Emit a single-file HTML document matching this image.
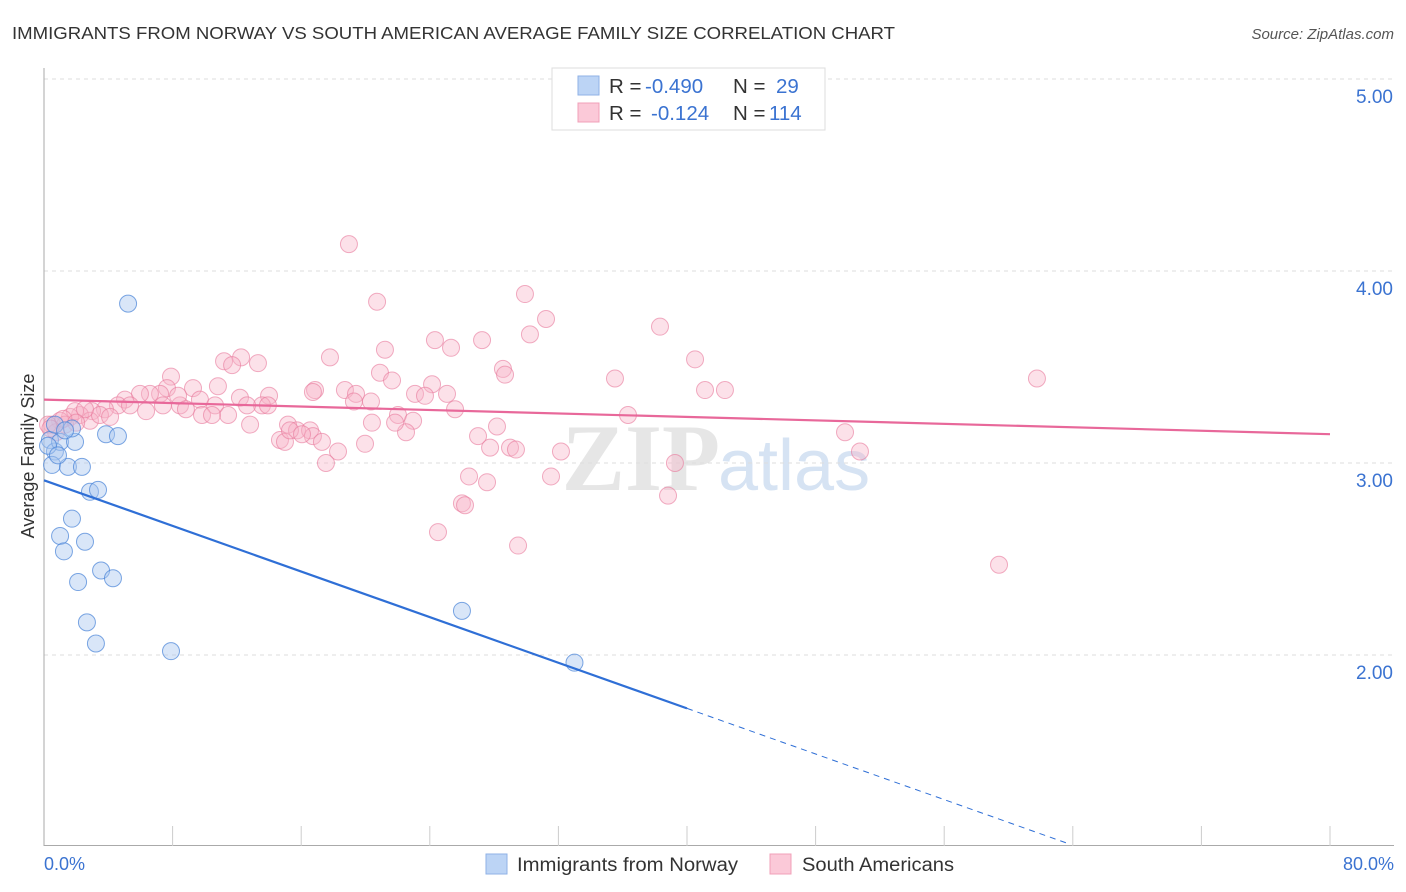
<!DOCTYPE html>
<html><head><meta charset="utf-8"><style>
body{margin:0;background:#fff;font-family:"Liberation Sans",sans-serif;}
svg{display:block}
</style></head><body>
<svg id="chart" width="1406" height="892" xmlns="http://www.w3.org/2000/svg">
<text x="12" y="39" font-size="17.5" fill="#333" textLength="883" lengthAdjust="spacingAndGlyphs">IMMIGRANTS FROM NORWAY VS SOUTH AMERICAN AVERAGE FAMILY SIZE CORRELATION CHART</text>
<text x="1394" y="39" font-size="15" fill="#555" font-style="italic" text-anchor="end">Source: ZipAtlas.com</text>
<text x="720" y="490" font-size="95" fill="#e6e6e6" font-family="Liberation Serif,serif" text-anchor="end" font-weight="bold">ZIP</text>
<text x="718" y="490" font-size="72" fill="#d6e3f3">atlas</text>
<g id="grid"></g>
<g id="axes"></g>
<g id="marks"></g>
<text transform="translate(34,456) rotate(-90)" font-size="18" fill="#333" text-anchor="middle">Average Family Size</text>
<text x="44" y="870" font-size="18" fill="#3b73d1">0.0%</text>
<text x="1394" y="870" font-size="18" fill="#3b73d1" text-anchor="end">80.0%</text>
<g>
<rect x="552" y="68" width="273" height="62" fill="#fff" stroke="#ddd"/>
<rect x="578" y="76" width="21" height="19" fill="#bcd4f5" stroke="#8fb2e6"/>
<rect x="578" y="103" width="21" height="19" fill="#fbc9d8" stroke="#f0a0b8"/>
<text x="609" y="93" font-size="20.5" fill="#333">R = <tspan x="645" fill="#3b73d1">-0.490</tspan><tspan x="733">N = </tspan><tspan x="776" fill="#3b73d1">29</tspan></text>
<text x="609" y="120" font-size="20.5" fill="#333">R = <tspan x="651" fill="#3b73d1">-0.124</tspan><tspan x="733">N = </tspan><tspan x="769" fill="#3b73d1">114</tspan></text>
</g>
<g>
<rect x="486" y="854" width="21" height="20" fill="#bcd4f5" stroke="#8fb2e6"/>
<text x="517" y="871" font-size="19" fill="#333" textLength="221" lengthAdjust="spacingAndGlyphs">Immigrants from Norway</text>
<rect x="770" y="854" width="21" height="20" fill="#fbc9d8" stroke="#f0a0b8"/>
<text x="802" y="871" font-size="19" fill="#333" textLength="152" lengthAdjust="spacingAndGlyphs">South Americans</text>
</g>
</svg>
<script>
const yTicks=[2,3,4,5];
const yTickLabels=["2.00","3.00","4.00","5.00"];
const blueX=[5.23,0.37,0.68,1.0,0.5,1.49,2.36,1.93,1.74,3.86,4.6,2.86,3.36,1.74,1.0,2.55,1.24,3.55,4.29,2.12,2.67,3.23,7.9,26.0,33.0,0.25,0.68,1.31,0.87];
const blueY=[3.83,3.12,3.06,3.11,2.99,2.98,2.98,3.11,3.18,3.15,3.14,2.85,2.86,2.71,2.62,2.59,2.54,2.44,2.40,2.38,2.17,2.06,2.02,2.23,1.96,3.09,3.20,3.17,3.04];
const pinkX=[18.97,20.72,29.92,31.23,38.32,30.23,24.32,25.32,27.25,21.21,17.79,11.2,12.26,13.31,11.7,40.5,28.55,28.68,35.52,61.77,20.9,21.65,7.9,7.65,9.27,10.82,12.19,14.0,16.86,18.72,19.41,19.28,20.34,16.73,23.08,24.14,23.7,25.07,41.12,42.36,25.57,22.02,22.96,22.52,20.4,21.84,36.33,8.46,9.7,10.64,8.34,7.22,6.59,5.97,5.04,4.6,3.79,2.99,2.24,1.62,1.0,0.5,1.31,1.93,2.86,3.48,4.11,5.35,9.83,11.45,12.82,13.56,15.18,15.74,16.55,16.73,14.68,14.99,17.29,18.29,19.97,17.54,27.0,28.18,27.75,28.99,29.36,32.16,26.44,27.56,31.54,26.0,26.19,24.51,29.49,39.25,38.82,49.83,50.76,59.41,13.93,12.63,7.4,6.35,8.83,15.3,16.05,10.45,0.75,0.25,2.55,1.2,0.4,2.0];
const pinkY=[4.14,3.84,3.88,3.75,3.71,3.67,3.64,3.6,3.64,3.59,3.55,3.53,3.55,3.52,3.51,3.54,3.49,3.46,3.44,3.44,3.47,3.43,3.45,3.39,3.39,3.4,3.34,3.35,3.38,3.38,3.36,3.32,3.32,3.37,3.36,3.41,3.35,3.36,3.38,3.38,3.28,3.25,3.22,3.16,3.21,3.21,3.25,3.3,3.33,3.3,3.35,3.36,3.36,3.36,3.33,3.3,3.28,3.27,3.25,3.24,3.22,3.2,3.2,3.27,3.22,3.25,3.24,3.3,3.25,3.25,3.2,3.3,3.2,3.17,3.17,3.14,3.12,3.11,3.11,3.06,3.1,3.0,3.14,3.19,3.08,3.08,3.07,3.06,2.93,2.9,2.93,2.79,2.78,2.64,2.57,3.0,2.83,3.16,3.06,2.47,3.3,3.3,3.3,3.27,3.28,3.17,3.15,3.25,3.16,3.2,3.28,3.23,3.18,3.21];
const blueTrend=[2.91,-0.0297];
const pinkTrend=[3.33,-0.00225];
const blueSolidEnd=40, blueDashEnd=63.7, pinkEnd=80;

const NS="http://www.w3.org/2000/svg";
const xs=v=>44+v*16.075;
const ys=v=>847-(v-1)*192;
function mk(tag,attrs,parent){const e=document.createElementNS(NS,tag);for(const k in attrs)e.setAttribute(k,attrs[k]);parent.appendChild(e);return e;}
const grid=document.getElementById('grid'),axes=document.getElementById('axes'),marks=document.getElementById('marks');
yTicks.forEach((t,i)=>{
  const l=mk('line',{x1:44,x2:1394,y1:ys(t),y2:ys(t),stroke:'#ddd','stroke-dasharray':'4,4'},grid);
  
  
  const tx=mk('text',{x:1393,y:ys(t)+24,'font-size':19,fill:'#3b73d1','text-anchor':'end'},grid);
  tx.textContent=yTickLabels[i];
  
  
});
const ya=mk('line',{x1:44,x2:44,y1:68,y2:846,stroke:'#aaa'},axes);


const xa=mk('line',{x1:44,x2:1394,y1:845.5,y2:845.5,stroke:'#aaa'},axes);


for(let i=1;i<=10;i++){
  const t=mk('line',{x1:xs(i*8),x2:xs(i*8),y1:826,y2:846,stroke:'#ccc'},axes);
  
  
}
pinkX.forEach((x,i)=>{
  const c=mk('circle',{cx:xs(x),cy:ys(pinkY[i]),r:8.5,fill:'rgba(248,180,200,0.4)',stroke:'rgba(232,120,155,0.6)','stroke-width':1},marks);
  
  
});
blueX.forEach((x,i)=>{
  const c=mk('circle',{cx:xs(x),cy:ys(blueY[i]),r:8.5,fill:'rgba(170,200,240,0.45)',stroke:'rgba(70,130,215,0.7)','stroke-width':1},marks);
  
  
});
const pl=mk('line',{x1:xs(0),y1:ys(pinkTrend[0]),x2:xs(pinkEnd),y2:ys(pinkTrend[0]+pinkTrend[1]*pinkEnd),stroke:'#e8689a','stroke-width':2.2},marks);


const bl=mk('line',{x1:xs(0),y1:ys(blueTrend[0]),x2:xs(blueSolidEnd),y2:ys(blueTrend[0]+blueTrend[1]*blueSolidEnd),stroke:'#2f6fd6','stroke-width':2.2},marks);


const bd=mk('line',{x1:xs(blueSolidEnd),y1:ys(blueTrend[0]+blueTrend[1]*blueSolidEnd),x2:xs(blueDashEnd),y2:ys(blueTrend[0]+blueTrend[1]*blueDashEnd),stroke:'#2f6fd6','stroke-width':1,'stroke-dasharray':'6,5'},marks);


</script>
</body></html>
